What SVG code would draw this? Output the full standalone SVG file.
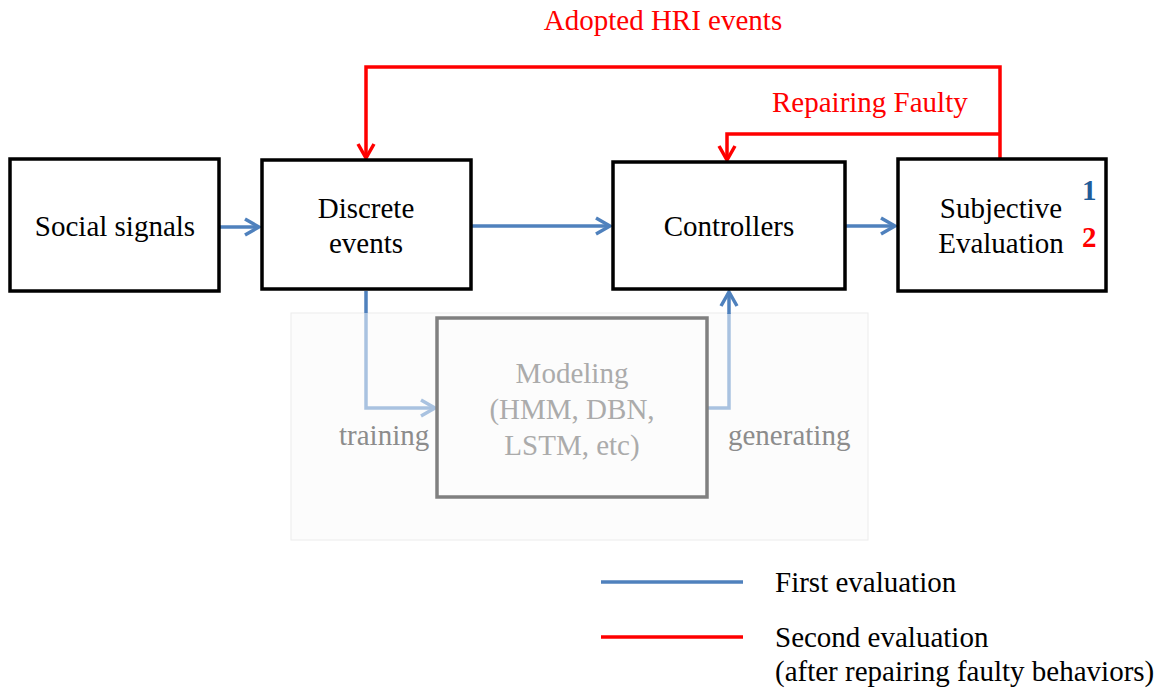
<svg xmlns="http://www.w3.org/2000/svg" width="1164" height="691" viewBox="0 0 1164 691">
<style>
text{font-family:"Liberation Serif","Times New Roman",serif;font-size:29px}
.box{fill:#fff;stroke:#000;stroke-width:3.5}
.blue{fill:none;stroke:#4f81bd;stroke-width:3.5}
.lblue{fill:none;stroke:#a9c2e0;stroke-width:3.5}
.red{fill:none;stroke:#ff0000;stroke-width:3.5}
.c{text-anchor:middle}
</style>
<defs>
<marker id="ab" viewBox="0 0 20 20" markerWidth="20" markerHeight="20" refX="17" refY="10" orient="auto" markerUnits="userSpaceOnUse"><path d="M3,2 L17,10 L3,18" fill="none" stroke="#4f81bd" stroke-width="3.5"/></marker>
<marker id="al" viewBox="0 0 20 20" markerWidth="20" markerHeight="20" refX="17" refY="10" orient="auto" markerUnits="userSpaceOnUse"><path d="M3,2 L17,10 L3,18" fill="none" stroke="#a9c2e0" stroke-width="3.5"/></marker>
<marker id="ar" viewBox="0 0 20 20" markerWidth="20" markerHeight="20" refX="17" refY="10" orient="auto" markerUnits="userSpaceOnUse"><path d="M3,2 L17,10 L3,18" fill="none" stroke="#ff0000" stroke-width="3.5"/></marker>
</defs>
<rect x="291" y="313" width="577" height="227" fill="#fcfcfc" stroke="#ececec" stroke-width="1"/>
<g id="connectors">
<line class="blue" x1="219" y1="227" x2="259" y2="227" marker-end="url(#ab)"/>
<line class="blue" x1="471" y1="226" x2="610" y2="226" marker-end="url(#ab)"/>
<line class="blue" x1="845" y1="226" x2="895" y2="226" marker-end="url(#ab)"/>
<line class="blue" x1="366" y1="291" x2="366" y2="313"/>
<polyline class="lblue" points="366,313 366,408 435,408" marker-end="url(#al)"/>
<polyline class="lblue" points="708,408 729,408 729,313"/>
<line class="blue" x1="729" y1="314" x2="729" y2="292" marker-end="url(#ab)"/>
<polyline class="red" points="1000,159 1000,67 366,67 366,158" marker-end="url(#ar)"/>
<polyline class="red" points="1000,134 727,134 727,160" marker-end="url(#ar)"/>
</g>
<g id="social"><rect class="box" x="10" y="159" width="209" height="132"/><text class="c" x="115" y="236">Social signals</text></g>
<g id="discrete"><rect class="box" x="262" y="160" width="209" height="129"/><text class="c" x="366" y="218">Discrete</text><text class="c" x="366" y="253">events</text></g>
<g id="controllers"><rect class="box" x="613" y="162" width="232" height="127"/><text class="c" x="729" y="236">Controllers</text></g>
<g id="subjective"><rect class="box" x="898" y="159" width="208" height="132"/><text class="c" x="1001" y="218">Subjective</text><text class="c" x="1001" y="253">Evaluation</text>
<text x="1082" y="200" fill="#1f5c99" font-weight="bold" font-size="27">1</text><text x="1082" y="247" fill="#ff0000" font-weight="bold" font-size="27">2</text></g>
<g id="modeling"><rect x="437" y="318" width="270" height="179" fill="none" stroke="#808080" stroke-width="3.5"/>
<text class="c" x="572" y="383" fill="#ababab">Modeling</text><text class="c" x="572" y="419" fill="#ababab">(HMM, DBN,</text><text class="c" x="572" y="455" fill="#ababab">LSTM, etc)</text></g>
<text x="339" y="445" fill="#8c8c8c">training</text>
<text x="728" y="445" fill="#8c8c8c">generating</text>
<text class="c" x="663" y="30" fill="#ff0000">Adopted HRI events</text>
<text x="772" y="112" fill="#ff0000">Repairing Faulty</text>
<g id="legend">
<line x1="601" y1="582" x2="743" y2="582" stroke="#4f81bd" stroke-width="3.5"/>
<line x1="601" y1="637" x2="743" y2="637" stroke="#ff0000" stroke-width="3.5"/>
<text x="775" y="592">First evaluation</text>
<text x="775" y="647">Second evaluation</text>
<text x="775" y="681">(after repairing faulty behaviors)</text>
</g>
</svg>
